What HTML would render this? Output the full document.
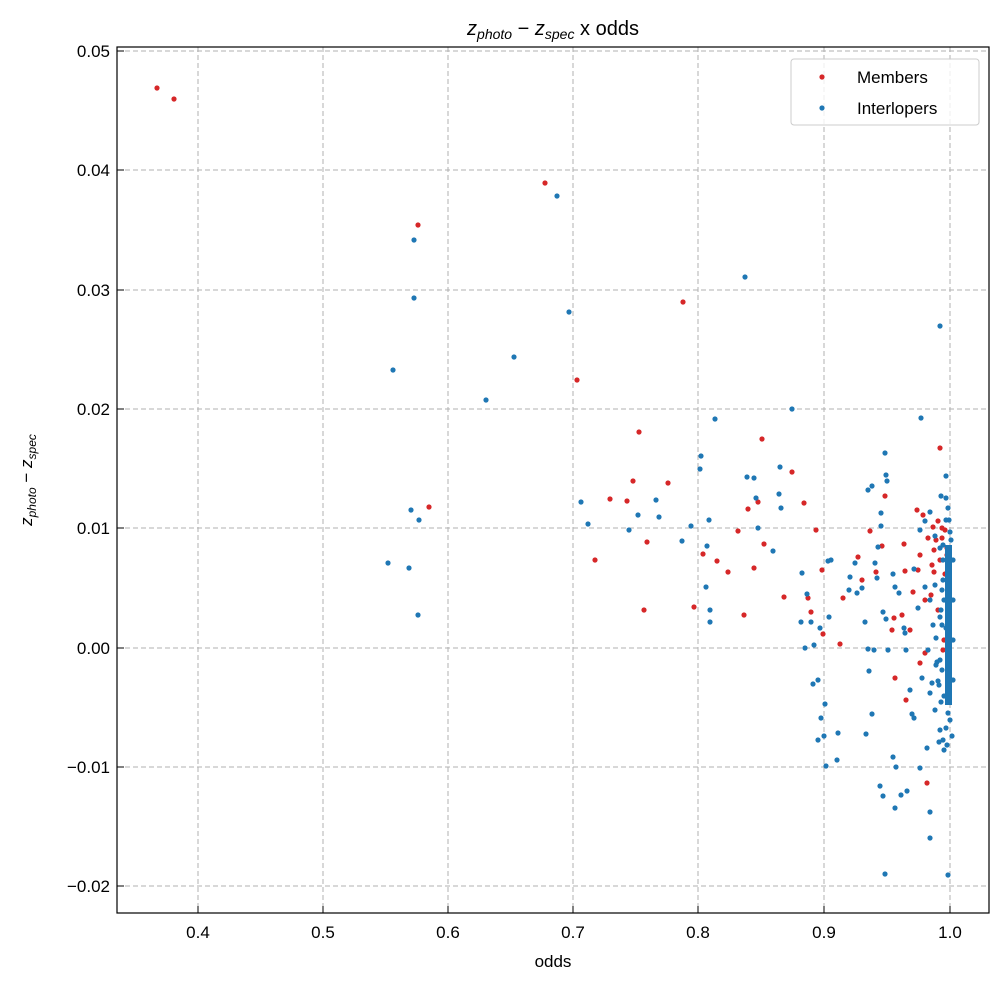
<!DOCTYPE html>
<html><head><meta charset="utf-8"><style>
body{margin:0;background:#fff}
svg{display:block;font-family:"Liberation Sans","DejaVu Sans",sans-serif}
</style></head><body>
<svg width="1004" height="985" viewBox="0 0 1004 985" xmlns="http://www.w3.org/2000/svg">
<rect width="1004" height="985" fill="#fff"/>
<g stroke="#b0b0b0" stroke-width="1" stroke-dasharray="5,3">
<line x1="198" y1="47" x2="198" y2="913"/><line x1="323" y1="47" x2="323" y2="913"/><line x1="448" y1="47" x2="448" y2="913"/><line x1="573" y1="47" x2="573" y2="913"/><line x1="698" y1="47" x2="698" y2="913"/><line x1="824" y1="47" x2="824" y2="913"/><line x1="950" y1="47" x2="950" y2="913"/>
<line x1="117" y1="51" x2="989" y2="51"/><line x1="117" y1="170" x2="989" y2="170"/><line x1="117" y1="290" x2="989" y2="290"/><line x1="117" y1="409" x2="989" y2="409"/><line x1="117" y1="528" x2="989" y2="528"/><line x1="117" y1="648" x2="989" y2="648"/><line x1="117" y1="767" x2="989" y2="767"/><line x1="117" y1="886" x2="989" y2="886"/>
</g>
<g fill="#d62728">
<circle cx="157" cy="88" r="2.6"/><circle cx="174" cy="99" r="2.6"/><circle cx="545" cy="183" r="2.6"/><circle cx="418" cy="225" r="2.6"/><circle cx="683" cy="302" r="2.6"/><circle cx="577" cy="380" r="2.6"/><circle cx="639" cy="432" r="2.6"/><circle cx="429" cy="507" r="2.6"/><circle cx="595" cy="560" r="2.6"/><circle cx="610" cy="499" r="2.6"/><circle cx="627" cy="501" r="2.6"/><circle cx="633" cy="481" r="2.6"/><circle cx="647" cy="542" r="2.6"/><circle cx="668" cy="483" r="2.6"/><circle cx="644" cy="610" r="2.6"/><circle cx="694" cy="607" r="2.6"/><circle cx="703" cy="554" r="2.6"/><circle cx="717" cy="561" r="2.6"/><circle cx="728" cy="572" r="2.6"/><circle cx="738" cy="531" r="2.6"/><circle cx="748" cy="509" r="2.6"/><circle cx="744" cy="615" r="2.6"/><circle cx="754" cy="568" r="2.6"/><circle cx="762" cy="439" r="2.6"/><circle cx="758" cy="502" r="2.6"/><circle cx="764" cy="544" r="2.6"/><circle cx="792" cy="472" r="2.6"/><circle cx="804" cy="503" r="2.6"/><circle cx="808" cy="598" r="2.6"/><circle cx="816" cy="530" r="2.6"/><circle cx="823" cy="634" r="2.6"/><circle cx="822" cy="570" r="2.6"/><circle cx="784" cy="597" r="2.6"/><circle cx="811" cy="612" r="2.6"/><circle cx="840" cy="644" r="2.6"/><circle cx="843" cy="598" r="2.6"/><circle cx="858" cy="557" r="2.6"/><circle cx="862" cy="580" r="2.6"/><circle cx="870" cy="531" r="2.6"/><circle cx="876" cy="572" r="2.6"/><circle cx="882" cy="546" r="2.6"/><circle cx="885" cy="496" r="2.6"/><circle cx="892" cy="630" r="2.6"/><circle cx="894" cy="618" r="2.6"/><circle cx="904" cy="544" r="2.6"/><circle cx="905" cy="571" r="2.6"/><circle cx="913" cy="592" r="2.6"/><circle cx="920" cy="663" r="2.6"/><circle cx="925" cy="653" r="2.6"/><circle cx="931" cy="595" r="2.6"/><circle cx="934" cy="550" r="2.6"/><circle cx="940" cy="448" r="2.6"/><circle cx="945" cy="574" r="2.6"/><circle cx="927" cy="783" r="2.6"/><circle cx="932" cy="565" r="2.6"/><circle cx="940" cy="560" r="2.6"/><circle cx="936" cy="540" r="2.6"/><circle cx="942" cy="528" r="2.6"/><circle cx="938" cy="610" r="2.6"/><circle cx="925" cy="600" r="2.6"/><circle cx="918" cy="570" r="2.6"/><circle cx="928" cy="538" r="2.6"/><circle cx="945" cy="530" r="2.6"/><circle cx="947" cy="555" r="2.6"/><circle cx="944" cy="640" r="2.6"/><circle cx="910" cy="630" r="2.6"/><circle cx="902" cy="615" r="2.6"/><circle cx="906" cy="700" r="2.6"/>
<circle cx="917" cy="510" r="2.6"/><circle cx="923" cy="515" r="2.6"/><circle cx="933" cy="527" r="2.6"/><circle cx="942" cy="538" r="2.6"/><circle cx="947" cy="548" r="2.6"/><circle cx="934" cy="572" r="2.6"/><circle cx="920" cy="555" r="2.6"/><circle cx="938" cy="521" r="2.6"/><circle cx="943" cy="650" r="2.6"/><circle cx="895" cy="678" r="2.6"/>
</g>
<g fill="#1f77b4">
<rect x="945" y="545" width="7" height="160"/>
<circle cx="557" cy="196" r="2.6"/><circle cx="414" cy="240" r="2.6"/><circle cx="414" cy="298" r="2.6"/><circle cx="569" cy="312" r="2.6"/><circle cx="514" cy="357" r="2.6"/><circle cx="393" cy="370" r="2.6"/><circle cx="486" cy="400" r="2.6"/><circle cx="745" cy="277" r="2.6"/><circle cx="792" cy="409" r="2.6"/><circle cx="715" cy="419" r="2.6"/><circle cx="411" cy="510" r="2.6"/><circle cx="419" cy="520" r="2.6"/><circle cx="388" cy="563" r="2.6"/><circle cx="409" cy="568" r="2.6"/><circle cx="418" cy="615" r="2.6"/><circle cx="581" cy="502" r="2.6"/><circle cx="588" cy="524" r="2.6"/><circle cx="629" cy="530" r="2.6"/><circle cx="638" cy="515" r="2.6"/><circle cx="656" cy="500" r="2.6"/><circle cx="659" cy="517" r="2.6"/><circle cx="691" cy="526" r="2.6"/><circle cx="682" cy="541" r="2.6"/><circle cx="700" cy="469" r="2.6"/><circle cx="701" cy="456" r="2.6"/><circle cx="709" cy="520" r="2.6"/><circle cx="707" cy="546" r="2.6"/><circle cx="710" cy="610" r="2.6"/><circle cx="710" cy="622" r="2.6"/><circle cx="706" cy="587" r="2.6"/><circle cx="747" cy="477" r="2.6"/><circle cx="754" cy="478" r="2.6"/><circle cx="756" cy="498" r="2.6"/><circle cx="758" cy="528" r="2.6"/><circle cx="773" cy="551" r="2.6"/><circle cx="780" cy="467" r="2.6"/><circle cx="779" cy="494" r="2.6"/><circle cx="781" cy="508" r="2.6"/><circle cx="802" cy="573" r="2.6"/><circle cx="807" cy="594" r="2.6"/><circle cx="811" cy="622" r="2.6"/><circle cx="828" cy="561" r="2.6"/><circle cx="805" cy="648" r="2.6"/><circle cx="825" cy="704" r="2.6"/><circle cx="821" cy="718" r="2.6"/><circle cx="824" cy="736" r="2.6"/><circle cx="818" cy="740" r="2.6"/><circle cx="813" cy="684" r="2.6"/><circle cx="818" cy="680" r="2.6"/><circle cx="814" cy="645" r="2.6"/><circle cx="820" cy="628" r="2.6"/><circle cx="801" cy="622" r="2.6"/><circle cx="829" cy="617" r="2.6"/><circle cx="831" cy="560" r="2.6"/><circle cx="838" cy="733" r="2.6"/><circle cx="826" cy="766" r="2.6"/><circle cx="837" cy="760" r="2.6"/><circle cx="850" cy="577" r="2.6"/><circle cx="849" cy="590" r="2.6"/><circle cx="855" cy="563" r="2.6"/><circle cx="857" cy="593" r="2.6"/><circle cx="862" cy="588" r="2.6"/><circle cx="865" cy="622" r="2.6"/><circle cx="868" cy="490" r="2.6"/><circle cx="875" cy="563" r="2.6"/><circle cx="878" cy="547" r="2.6"/><circle cx="881" cy="513" r="2.6"/><circle cx="881" cy="526" r="2.6"/><circle cx="886" cy="475" r="2.6"/><circle cx="887" cy="481" r="2.6"/><circle cx="877" cy="578" r="2.6"/><circle cx="883" cy="612" r="2.6"/><circle cx="868" cy="649" r="2.6"/><circle cx="874" cy="650" r="2.6"/><circle cx="869" cy="671" r="2.6"/><circle cx="872" cy="714" r="2.6"/><circle cx="866" cy="734" r="2.6"/><circle cx="886" cy="619" r="2.6"/><circle cx="888" cy="650" r="2.6"/><circle cx="893" cy="574" r="2.6"/><circle cx="895" cy="587" r="2.6"/><circle cx="899" cy="593" r="2.6"/><circle cx="904" cy="628" r="2.6"/><circle cx="910" cy="690" r="2.6"/><circle cx="912" cy="714" r="2.6"/><circle cx="914" cy="718" r="2.6"/><circle cx="906" cy="650" r="2.6"/><circle cx="905" cy="633" r="2.6"/><circle cx="914" cy="569" r="2.6"/><circle cx="920" cy="530" r="2.6"/><circle cx="925" cy="521" r="2.6"/><circle cx="930" cy="512" r="2.6"/><circle cx="935" cy="536" r="2.6"/><circle cx="940" cy="548" r="2.6"/><circle cx="944" cy="600" r="2.6"/><circle cx="946" cy="628" r="2.6"/><circle cx="948" cy="654" r="2.6"/><circle cx="939" cy="742" r="2.6"/><circle cx="927" cy="748" r="2.6"/><circle cx="920" cy="768" r="2.6"/><circle cx="907" cy="791" r="2.6"/><circle cx="901" cy="795" r="2.6"/><circle cx="896" cy="767" r="2.6"/><circle cx="893" cy="757" r="2.6"/><circle cx="880" cy="786" r="2.6"/><circle cx="952" cy="736" r="2.6"/><circle cx="936" cy="665" r="2.6"/><circle cx="932" cy="683" r="2.6"/><circle cx="930" cy="693" r="2.6"/><circle cx="935" cy="710" r="2.6"/><circle cx="943" cy="740" r="2.6"/><circle cx="938" cy="681" r="2.6"/><circle cx="941" cy="702" r="2.6"/><circle cx="944" cy="696" r="2.6"/><circle cx="937" cy="662" r="2.6"/><circle cx="940" cy="617" r="2.6"/><circle cx="933" cy="625" r="2.6"/><circle cx="936" cy="638" r="2.6"/><circle cx="895" cy="808" r="2.6"/><circle cx="883" cy="796" r="2.6"/><circle cx="930" cy="812" r="2.6"/><circle cx="930" cy="838" r="2.6"/><circle cx="885" cy="874" r="2.6"/><circle cx="948" cy="875" r="2.6"/><circle cx="940" cy="326" r="2.6"/><circle cx="921" cy="418" r="2.6"/><circle cx="941" cy="496" r="2.6"/><circle cx="946" cy="476" r="2.6"/><circle cx="885" cy="453" r="2.6"/><circle cx="872" cy="486" r="2.6"/><circle cx="925" cy="587" r="2.6"/><circle cx="918" cy="608" r="2.6"/><circle cx="928" cy="650" r="2.6"/><circle cx="922" cy="678" r="2.6"/><circle cx="946" cy="520" r="2.6"/><circle cx="948" cy="508" r="2.6"/><circle cx="946" cy="498" r="2.6"/><circle cx="943" cy="560" r="2.6"/><circle cx="943" cy="580" r="2.6"/><circle cx="950" cy="720" r="2.6"/><circle cx="947" cy="745" r="2.6"/><circle cx="944" cy="750" r="2.6"/><circle cx="950" cy="532" r="2.6"/><circle cx="951" cy="540" r="2.6"/><circle cx="942" cy="670" r="2.6"/><circle cx="940" cy="730" r="2.6"/><circle cx="948" cy="713" r="2.6"/><circle cx="946" cy="728" r="2.6"/>
<circle cx="943" cy="545" r="2.6"/><circle cx="942" cy="590" r="2.6"/><circle cx="941" cy="610" r="2.6"/><circle cx="942" cy="625" r="2.6"/><circle cx="940" cy="660" r="2.6"/><circle cx="939" cy="685" r="2.6"/><circle cx="953" cy="560" r="2.6"/><circle cx="953" cy="600" r="2.6"/><circle cx="953" cy="640" r="2.6"/><circle cx="953" cy="680" r="2.6"/><circle cx="949" cy="520" r="2.6"/><circle cx="935" cy="585" r="2.6"/><circle cx="930" cy="600" r="2.6"/>
</g>
<rect x="117" y="47" width="872" height="866" fill="none" stroke="#000" stroke-width="1.2"/>
<g stroke="#000" stroke-width="1">
<line x1="198" y1="913" x2="198" y2="906"/><line x1="323" y1="913" x2="323" y2="906"/><line x1="448" y1="913" x2="448" y2="906"/><line x1="573" y1="913" x2="573" y2="906"/><line x1="698" y1="913" x2="698" y2="906"/><line x1="824" y1="913" x2="824" y2="906"/><line x1="950" y1="913" x2="950" y2="906"/>
<line x1="117" y1="51" x2="124" y2="51"/><line x1="117" y1="170" x2="124" y2="170"/><line x1="117" y1="290" x2="124" y2="290"/><line x1="117" y1="409" x2="124" y2="409"/><line x1="117" y1="528" x2="124" y2="528"/><line x1="117" y1="648" x2="124" y2="648"/><line x1="117" y1="767" x2="124" y2="767"/><line x1="117" y1="886" x2="124" y2="886"/>
</g>
<g font-size="17" fill="#000" text-anchor="middle">
<text x="198" y="938">0.4</text><text x="323" y="938">0.5</text><text x="448" y="938">0.6</text><text x="573" y="938">0.7</text><text x="698" y="938">0.8</text><text x="824" y="938">0.9</text><text x="950" y="938">1.0</text>
<text x="553" y="967">odds</text>
</g>
<g font-size="17" fill="#000" text-anchor="end">
<text x="110" y="57">0.05</text><text x="110" y="176">0.04</text><text x="110" y="296">0.03</text><text x="110" y="415">0.02</text><text x="110" y="534">0.01</text><text x="110" y="654">0.00</text><text x="110" y="773">−0.01</text><text x="110" y="892">−0.02</text>
</g>
<text x="553" y="35" font-size="20" text-anchor="middle"><tspan font-style="italic">z</tspan><tspan font-style="italic" font-size="14" dy="4">photo</tspan><tspan dy="-4"> − </tspan><tspan font-style="italic">z</tspan><tspan font-style="italic" font-size="14" dy="4">spec</tspan><tspan dy="-4"> x odds</tspan></text>
<text transform="translate(32,480) rotate(-90)" font-size="17" text-anchor="middle"><tspan font-style="italic">z</tspan><tspan font-style="italic" font-size="12" dy="4">photo</tspan><tspan dy="-4"> − </tspan><tspan font-style="italic">z</tspan><tspan font-style="italic" font-size="12" dy="4">spec</tspan></text>
<rect x="791" y="59" width="188" height="66" rx="3" fill="#fff" fill-opacity="0.8" stroke="#ccc"/>
<circle cx="822" cy="77" r="2.6" fill="#d62728"/><circle cx="822" cy="108" r="2.6" fill="#1f77b4"/>
<text x="857" y="83" font-size="17">Members</text><text x="857" y="114" font-size="17">Interlopers</text>
</svg>
</body></html>
